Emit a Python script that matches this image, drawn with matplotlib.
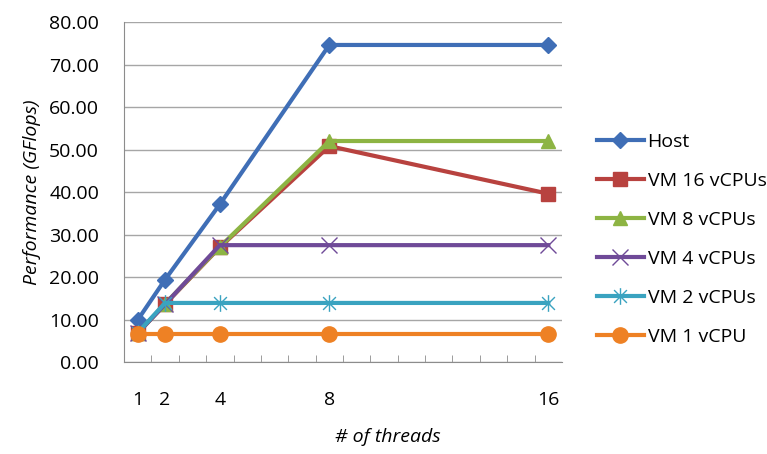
import matplotlib
matplotlib.use("Agg")
import matplotlib.pyplot as plt
from matplotlib.path import Path

threads = [1, 2, 4, 8, 16]
host = [9.9, 19.4, 37.1, 74.6, 74.6]
vm16 = [6.8, 13.6, 27.0, 50.8, 39.6]
vm8 = [6.8, 13.7, 27.1, 52.0, 52.0]
vm4 = [6.8, 13.6, 27.5, 27.5, 27.5]
vm2 = [6.9, 13.9, 13.9, 13.9, 13.9]
vm1 = [6.7, 6.7, 6.7, 6.7, 6.7]

# asterisk marker: an X crossed by a vertical stroke
star = Path([(-1, -1), (1, 1), (-1, 1), (1, -1), (0, -1.3), (0, 1.3)],
            [Path.MOVETO, Path.LINETO, Path.MOVETO, Path.LINETO, Path.MOVETO, Path.LINETO])

series = [
    ("Host", host, "#3F6EB6", "D", 8),
    ("VM 16 vCPUs", vm16, "#B8423F", "s", 10),
    ("VM 8 vCPUs", vm8, "#8DB443", "^", 10),
    ("VM 4 vCPUs", vm4, "#6F4A98", "x", 11),
    ("VM 2 vCPUs", vm2, "#3AA3C0", star, 12),
    ("VM 1 vCPU", vm1, "#EE8124", "o", 11),
]

plt.rcParams["font.family"] = ["Open Sans", "DejaVu Sans"]

fig = plt.figure(figsize=(7.67, 4.54), dpi=100)
ax = fig.add_axes([0.1617, 0.2026, 0.5710, 0.7489])

for label, vals, color, marker, ms in series:
    if isinstance(marker, Path) or marker == "x":
        ax.plot(threads, vals, color=color, lw=3, marker=marker, ms=ms, mew=1.0,
                mec=color, mfc="none", label=label, zorder=3)
    else:
        ax.plot(threads, vals, color=color, lw=3, marker=marker, ms=ms,
                mec=color, mfc=color, label=label, zorder=3)

ax.set_xlim(0.5, 16.5)
ax.set_ylim(0, 80)
ax.set_yticks(range(0, 81, 10))
ax.set_yticklabels([f"{v:.2f}" for v in range(0, 81, 10)], fontsize=14)
ax.yaxis.grid(True, color="#A6A6A6", lw=1)
ax.set_axisbelow(True)
ax.tick_params(axis="y", length=0, pad=18)

# minor ticks between categories, labels only at thread counts
ax.set_xticks([x + 0.5 for x in range(1, 16)], minor=True)
ax.set_xticks(threads)
ax.set_xticklabels([str(t) for t in threads], fontsize=14)
ax.tick_params(axis="x", which="major", length=0, pad=21)
ax.tick_params(axis="x", which="minor", direction="in", length=5, color="#8C8C8C")

for side in ("top", "right"):
    ax.spines[side].set_visible(False)
for side in ("left", "bottom"):
    ax.spines[side].set_color("#8C8C8C")

ax.set_ylabel("Performance (GFlops)", fontsize=14, style="italic", labelpad=6)
fig.text(388 / 767, 1 - 437 / 454, "# of threads", fontsize=14, style="italic",
         ha="center", va="center")

leg = ax.legend(loc="center left", bbox_to_anchor=(1.08, 0.36), frameon=False,
                fontsize=14, handlelength=2.4, labelspacing=1.08, handletextpad=0.2,
                borderaxespad=0, borderpad=0)

fig.savefig("out.png", dpi=100)
